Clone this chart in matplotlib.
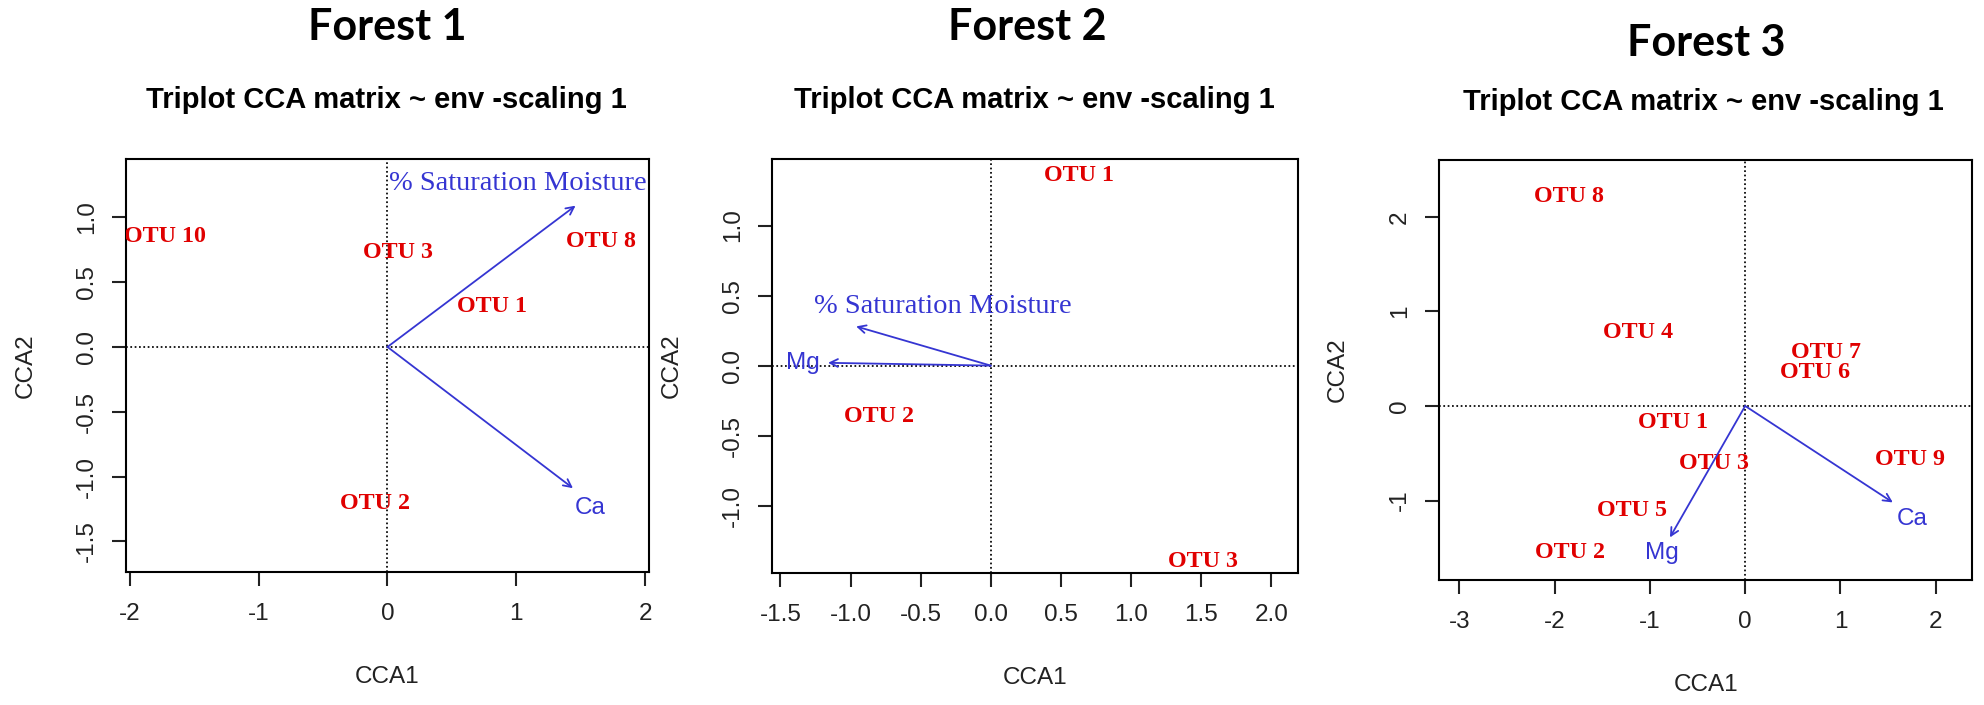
import matplotlib
matplotlib.use("Agg")
import matplotlib.pyplot as plt

# ------------------------------------------------------------
# CCA triplots (scaling 1) for three forests
# ------------------------------------------------------------

# Forest 1
F1_OTU = ["OTU 10", "OTU 3", "OTU 1", "OTU 8", "OTU 2"]
F1_OTU_X = [-1.73, 0.08, 0.81, 1.66, -0.10]
F1_OTU_Y = [0.85, 0.73, 0.31, 0.81, -1.21]
F1_ENV = ["% Saturation Moisture", "Ca"]
F1_ARROW_X = [1.46, 1.44]
F1_ARROW_Y = [1.09, -1.09]
F1_ENV_X = [1.01, 1.57]
F1_ENV_Y = [1.26, -1.24]

# Forest 2
F2_OTU = ["OTU 1", "OTU 2", "OTU 3"]
F2_OTU_X = [0.63, -0.80, 1.51]
F2_OTU_Y = [1.355, -0.36, -1.395]
F2_ENV = ["% Saturation Moisture", "Mg"]
F2_ARROW_X = [-0.96, -1.16]
F2_ARROW_Y = [0.28, 0.02]
F2_ENV_X = [-0.34, -1.34]
F2_ENV_Y = [0.42, 0.02]

# Forest 3
F3_OTU = ["OTU 8", "OTU 4", "OTU 7", "OTU 6", "OTU 1",
          "OTU 3", "OTU 9", "OTU 5", "OTU 2"]
F3_OTU_X = [-1.85, -1.12, 0.85, 0.73, -0.76, -0.33, 1.73, -1.19, -1.84]
F3_OTU_Y = [2.21, 0.78, 0.57, 0.35, -0.18, -0.61, -0.57, -1.11, -1.55]
F3_ENV = ["Mg", "Ca"]
F3_ARROW_X = [-0.79, 1.55]
F3_ARROW_Y = [-1.39, -1.02]
F3_ENV_X = [-0.87, 1.755]
F3_ENV_Y = [-1.55, -1.195]

FORESTS = ["Forest 1", "Forest 2", "Forest 3"]
SUBTITLE = "Triplot CCA matrix ~ env -scaling 1"

RED = "#e00000"
BLUE = "#3535d2"

SANS = ["Liberation Sans", "DejaVu Sans"]
SERIF = ["Liberation Serif", "DejaVu Serif"]
ENV_FONT = {
    "% Saturation Moisture": (SERIF, 20.5),
    "Ca": (SANS, 17.5),
    "Mg": (SANS, 17.5),
}

plt.rcParams.update({
    "font.family": SANS,
    "axes.unicode_minus": False,
    "axes.linewidth": 1.5,
    "xtick.major.width": 1.5,
    "ytick.major.width": 1.5,
    "xtick.major.size": 10.4,
    "ytick.major.size": 10.4,
    "xtick.labelsize": 17.5,
    "ytick.labelsize": 17.5,
    "xtick.color": "#222222",
    "ytick.color": "#222222",
})


def triplot(ax, otu, ox, oy, env, ax_x, ax_y, ex, ey,
            xlim, ylim, xticks, yticks, xfmt, yfmt, height_px):
    ax.axhline(0, color="black", ls=(0, (1, 1.5)), lw=1.25, zorder=1)
    ax.axvline(0, color="black", ls=(0, (1, 1.5)), lw=1.25, zorder=1)

    for lab, x, y in zip(otu, ox, oy):
        ax.text(x, y, lab, color=RED, family=SERIF, fontweight="bold",
                fontsize=17.3, ha="center", va="center", clip_on=True)

    for lab, tx, ty, lx, ly in zip(env, ax_x, ax_y, ex, ey):
        ax.annotate("", xy=(tx, ty), xytext=(0, 0),
                    arrowprops=dict(arrowstyle="->", color=BLUE, lw=1.3,
                                    mutation_scale=14, shrinkA=0, shrinkB=0))
        fam, size = ENV_FONT[lab]
        ax.text(lx, ly, lab, color=BLUE, family=fam, fontsize=size,
                ha="center", va="center", clip_on=True)

    ax.set_xlim(*xlim)
    ax.set_ylim(*ylim)
    ax.set_xticks(xticks, [xfmt.format(v) for v in xticks])
    ax.set_yticks(yticks, [yfmt.format(v) for v in yticks])
    ax.tick_params(axis="x", pad=12)
    ax.tick_params(axis="y", pad=10)
    for t in ax.get_yticklabels():
        t.set_rotation(90)
        t.set_va("center")

    ax.set_xlabel("CCA1", fontsize=17.5, color="#222222")
    ax.set_ylabel("CCA2", fontsize=17.5, color="#222222")
    ax.xaxis.set_label_coords(0.5, -105 / height_px)
    ax.xaxis.label.set_va("center")
    ax.yaxis.set_label_coords(-100 / 523, 0.5)
    ax.yaxis.label.set_va("center")


fig = plt.figure(figsize=(19.84, 7.05), dpi=100)

ax1 = fig.add_axes([0.0635, 0.1891, 0.2636, 0.585])
triplot(ax1, F1_OTU, F1_OTU_X, F1_OTU_Y, F1_ENV, F1_ARROW_X, F1_ARROW_Y,
        F1_ENV_X, F1_ENV_Y, (-2.03, 2.03), (-1.734, 1.448),
        [-2, -1, 0, 1, 2], [-1.5, -1.0, -0.5, 0.0, 0.5, 1.0],
        "{:.0f}", "{:.1f}", 412)

ax2 = fig.add_axes([0.3891, 0.1877, 0.2651, 0.5872])
triplot(ax2, F2_OTU, F2_OTU_X, F2_OTU_Y, F2_ENV, F2_ARROW_X, F2_ARROW_Y,
        F2_ENV_X, F2_ENV_Y, (-1.56, 2.19), (-1.478, 1.477),
        [-1.5, -1.0, -0.5, 0.0, 0.5, 1.0, 1.5, 2.0], [-1.0, -0.5, 0.0, 0.5, 1.0],
        "{:.1f}", "{:.1f}", 414)

ax3 = fig.add_axes([0.7255, 0.1773, 0.2684, 0.5957])
triplot(ax3, F3_OTU, F3_OTU_X, F3_OTU_Y, F3_ENV, F3_ARROW_X, F3_ARROW_Y,
        F3_ENV_X, F3_ENV_Y, (-3.21, 2.38), (-1.84, 2.60),
        [-3, -2, -1, 0, 1, 2], [-1, 0, 1, 2],
        "{:.0f}", "{:.0f}", 420)

# panel headers (Forest n + R title)
title_x = [387, 1027, 1706]
title_y = [27, 27, 43]
sub_x = [386, 1034, 1703]
sub_y = [100, 100, 102]
for name, tx, ty, sx, sy in zip(FORESTS, title_x, title_y, sub_x, sub_y):
    fig.text(tx / 1984, 1 - ty / 705, name, ha="center", va="center",
             family=["Lato", "DejaVu Sans"], fontweight="bold", fontsize=31)
    fig.text(sx / 1984, 1 - sy / 705, SUBTITLE, ha="center", va="center",
             family=SANS, fontweight="bold", fontsize=21)

fig.savefig("out.png", dpi=100, facecolor="white")
